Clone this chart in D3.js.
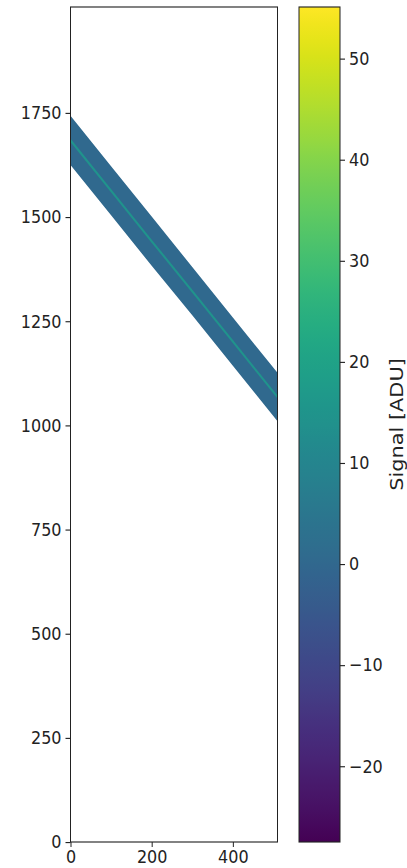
<!DOCTYPE html>
<html>
<head>
<meta charset="utf-8">
<script src="https://cdn.jsdelivr.net/npm/d3@7"></script>
<style>
  html, body { margin: 0; padding: 0; background: #fff; }
  svg { display: block; font-family: "DejaVu Sans", sans-serif; }
</style>
</head>
<body>
<svg id="chart" width="407" height="868"></svg>
<script>
// ---- data ----
const xTicks = [0, 200, 400];
const yTicks = [0, 250, 500, 750, 1000, 1250, 1500, 1750];
const cbarTicks = [-20, -10, 0, 10, 20, 30, 40, 50];
const xExtent = [0, 510];
const yExtent = [0, 2004];
const signalRange = [-27.5, 55.1];
// trace centre (row) sampled along the columns
const traceX = [0, 100, 200, 300, 400, 510];
const traceY = [1684, 1563, 1442, 1322, 1201, 1068];
const bandHalfWidth = [59, 59, 59, 58, 58, 58];
const backgroundSignal = 0.5;    // level inside the illuminated band
const peakSignal = 15.0;         // level along the trace centre
const cbarLabel = "Signal [ADU]";

// ---- layout (figure is drawn slightly stretched vertically) ----
const sy = 1.13;
const H = 868 / sy;
const svg = d3.select("#chart");
const root = svg.append("g").attr("transform", `scale(1,${sy})`);
const plot = { left: 70.5, right: 277.5, top: 7 / sy, bottom: 842 / sy };
const cbar = { left: 299, right: 340, top: 7 / sy, bottom: 842 / sy };
const fontSize = 16;

const x = d3.scaleLinear().domain(xExtent).range([plot.left, plot.right]);
const y = d3.scaleLinear().domain(yExtent).range([plot.bottom, plot.top]);
const color = d3.scaleSequential(d3.interpolateViridis).domain(signalRange);

const pts = traceX.map((v, i) => ({ x: v, c: traceY[i], h: bandHalfWidth[i] }));

const defs = svg.append("defs");
defs.append("clipPath").attr("id", "plotclip")
  .append("rect")
  .attr("x", plot.left).attr("y", plot.top)
  .attr("width", plot.right - plot.left).attr("height", plot.bottom - plot.top);

const g = root.append("g").attr("clip-path", "url(#plotclip)");

// band
g.append("path")
  .datum(pts)
  .attr("d", d3.area()
    .x(d => x(d.x))
    .y0(d => y(d.c - d.h))
    .y1(d => y(d.c + d.h)))
  .attr("fill", color(backgroundSignal));

// trace centre line
g.append("path")
  .datum(pts)
  .attr("d", d3.line().x(d => x(d.x)).y(d => y(d.c)))
  .attr("fill", "none")
  .attr("stroke", color(peakSignal))
  .attr("stroke-width", 2);

// frame
root.append("rect")
  .attr("x", plot.left).attr("y", plot.top)
  .attr("width", plot.right - plot.left).attr("height", plot.bottom - plot.top)
  .attr("fill", "none").attr("stroke", "#222").attr("stroke-width", 1);

const fmt = d => String(d).replace("-", "\u2212");

const yAx = root.append("g").attr("transform", `translate(${plot.left},0)`)
  .call(d3.axisLeft(y).tickValues(yTicks).tickSize(5).tickPadding(4).tickFormat(fmt));
const xAx = root.append("g").attr("transform", `translate(0,${plot.bottom})`)
  .call(d3.axisBottom(x).tickValues(xTicks).tickSize(4.5).tickPadding(3).tickFormat(fmt));

// colorbar
const cy = d3.scaleLinear().domain(signalRange).range([cbar.bottom, cbar.top]);
const grad = defs.append("linearGradient").attr("id", "cbgrad")
  .attr("x1", 0).attr("y1", 1).attr("x2", 0).attr("y2", 0);
grad.selectAll("stop").data(d3.range(0, 1.0001, 0.02)).join("stop")
  .attr("offset", d => d)
  .attr("stop-color", d => color(signalRange[0] + d * (signalRange[1] - signalRange[0])));
root.append("rect")
  .attr("x", cbar.left).attr("y", cbar.top)
  .attr("width", cbar.right - cbar.left).attr("height", cbar.bottom - cbar.top)
  .attr("fill", "url(#cbgrad)")
  .attr("stroke", "#222").attr("stroke-width", 1);

const cAx = root.append("g").attr("transform", `translate(${cbar.right},0)`)
  .call(d3.axisRight(cy).tickValues(cbarTicks).tickSize(5).tickPadding(4).tickFormat(fmt));

[yAx, xAx, cAx].forEach(a => {
  a.select(".domain").remove();
  a.selectAll("text").attr("font-size", fontSize).attr("font-family", "DejaVu Sans").attr("fill", "#222");
  a.selectAll("line").attr("stroke", "#222");
});

root.append("text")
  .attr("transform", `translate(403,${(cbar.top + cbar.bottom) / 2}) rotate(-90)`)
  .attr("text-anchor", "middle")
  .attr("font-size", 18.5)
  .attr("fill", "#222")
  .text(cbarLabel);
</script>
</body>
</html>
